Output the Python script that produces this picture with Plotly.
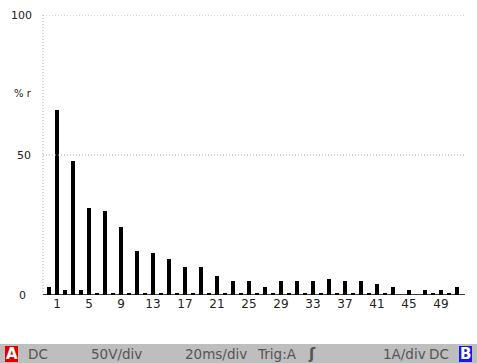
import plotly.graph_objects as go

# Harmonic spectrum data (% r) for harmonics 0 (DC) .. 51
harmonics = list(range(0, 52))
values = [3.0, 66.1, 1.8, 48.0, 1.8, 31.0, 0.8, 30.1, 0.8, 24.2,
          0.8, 15.8, 0.8, 15.1, 0.8, 12.9, 0.8, 10.1, 0.8, 10.1,
          0.8, 6.9, 0.8, 5.1, 0.8, 5.0, 0.8, 3.0, 0.8, 5.0,
          0.8, 5.0, 0.8, 5.0, 0.8, 5.8, 0.8, 5.0, 0.8, 5.0,
          0.8, 3.9, 0.8, 3.0, 0.0, 1.8, 0.0, 1.8, 0.8, 1.8,
          0.8, 3.0]
x_tick_vals = list(range(1, 50, 4))
x_tick_text = [str(v) for v in x_tick_vals]
y_labels = ["100", "50", "0"]
y_label_vals = [100, 50, 0]
unit_label = "% r"
status_left = ["DC", "50V/div", "20ms/div", "Trig:A"]
status_right = ["1A/div", "DC"]

W, H = 477, 363
L, R, T, B = 43, 465, 15, 295

def px(x):
    return (x - L) / (R - L)

def py(y):
    return (B - y) / (B - T)

FONT = "DejaVu Sans"

fig = go.Figure()
fig.add_trace(go.Bar(x=harmonics, y=values, width=0.4,
                     marker=dict(color="black", line=dict(width=0))))

shapes = []
for v in [100, 50]:
    shapes.append(dict(type="line", xref="paper", yref="y", x0=0, x1=1, y0=v, y1=v,
                       line=dict(color="#a8a8a8", width=1, dash="1px,2px")))
shapes.append(dict(type="line", xref="paper", yref="y", x0=0, x1=0, y0=0, y1=100,
                   line=dict(color="#a8a8a8", width=1, dash="1px,2px")))
shapes.append(dict(type="line", xref="paper", yref="y", x0=0, x1=1, y0=0, y1=0,
                   line=dict(color="black", width=1.5)))
# status bar
shapes.append(dict(type="rect", xref="paper", yref="paper", x0=px(0), x1=px(W),
                   y0=py(363), y1=py(344), fillcolor="#bebebe", line=dict(width=0), layer="below"))
shapes.append(dict(type="rect", xref="paper", yref="paper", x0=px(5), x1=px(18),
                   y0=py(362), y1=py(346), fillcolor="#e00000", line=dict(width=0)))
shapes.append(dict(type="rect", xref="paper", yref="paper", x0=px(459), x1=px(472),
                   y0=py(362), y1=py(346), fillcolor="#1a1ae0", line=dict(width=0)))

annotations = []
for lab, v, xr in zip(y_labels, y_label_vals, [34, 33, 28]):
    annotations.append(dict(text=lab, xref="paper", yref="y", x=px(xr), y=v,
                            xanchor="right", yanchor="middle", showarrow=False,
                            font=dict(family=FONT, size=11, color="#222")))
annotations.append(dict(text=unit_label, xref="paper", yref="y", x=px(34), y=72,
                        xanchor="right", yanchor="middle", showarrow=False,
                        font=dict(family=FONT, size=10, color="#222")))

sy = py(354)
status_font = dict(family=FONT, size=13.5, color="#555")
annotations.append(dict(text="<b>A</b>", xref="paper", yref="paper", x=px(11.5), y=sy,
                        xanchor="center", yanchor="middle", showarrow=False,
                        font=dict(family=FONT, size=15, color="white")))
annotations.append(dict(text="<b>B</b>", xref="paper", yref="paper", x=px(465.5), y=sy,
                        xanchor="center", yanchor="middle", showarrow=False,
                        font=dict(family=FONT, size=15, color="white")))
for t, xl in zip(status_left, [26, 89, 183, 255]):
    annotations.append(dict(text=t, xref="paper", yref="paper", x=px(xl), y=sy,
                            xanchor="left", yanchor="middle", showarrow=False, font=status_font))
annotations.append(dict(text="<b>ʃ</b>", xref="paper", yref="paper", x=px(306), y=sy,
                        xanchor="left", yanchor="middle", showarrow=False,
                        font=dict(family=FONT, size=15, color="#555")))
for t, xr in zip(status_right, [428, 451]):
    annotations.append(dict(text=t, xref="paper", yref="paper", x=px(xr), y=sy,
                            xanchor="right", yanchor="middle", showarrow=False, font=status_font))

fig.update_layout(
    width=W, height=H,
    margin=dict(l=L, r=W - R, t=T, b=H - B),
    paper_bgcolor="white", plot_bgcolor="white",
    showlegend=False,
    bargap=0,
    shapes=shapes,
    annotations=annotations,
    xaxis=dict(range=[-0.75, 52], tickvals=x_tick_vals, ticktext=x_tick_text,
               showgrid=False, zeroline=False, showline=False, ticks="",
               tickfont=dict(family=FONT, size=12, color="#222")),
    yaxis=dict(range=[0, 100], showgrid=False, zeroline=False, showline=False,
               showticklabels=False, ticks=""),
)

fig.write_html("out.html", config={"displayModeBar": False},
               post_script="document.body.style.margin='0';document.body.style.overflow='hidden';")
